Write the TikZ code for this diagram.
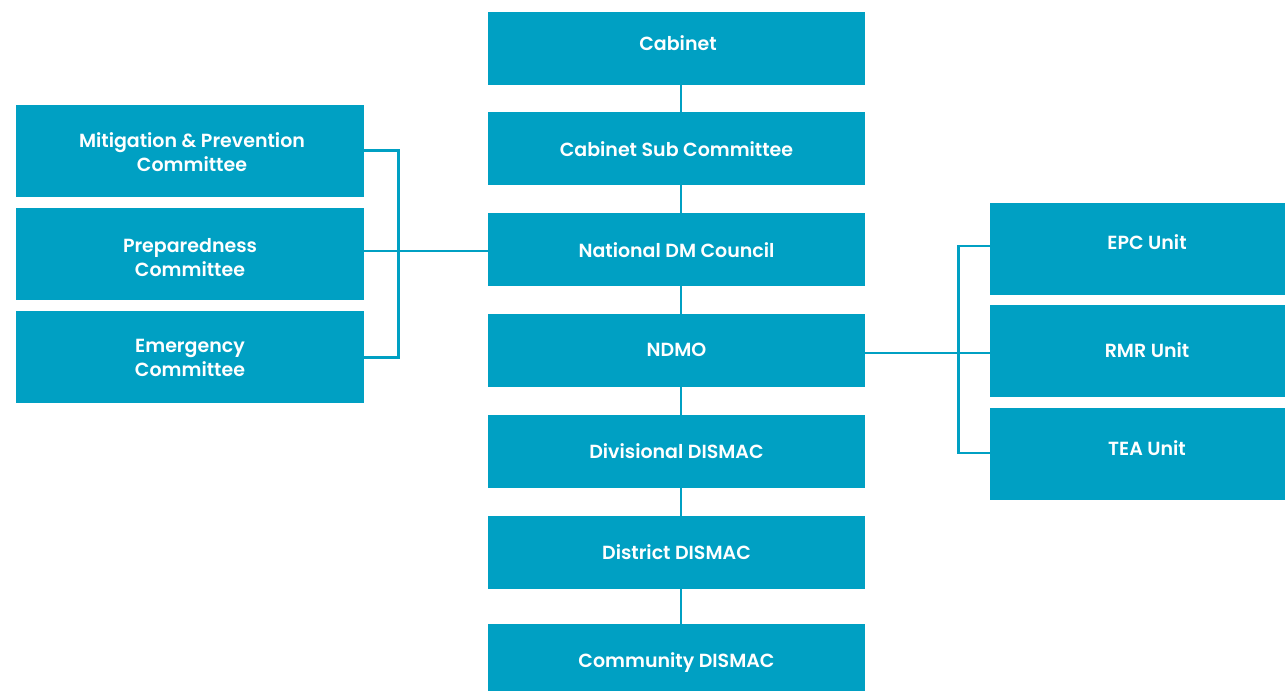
\documentclass[tikz,border=0pt]{standalone}
\usepackage{fontspec}
\IfFontExistsTF{Poppins SemiBold}{\newfontfamily\boxfont{Poppins SemiBold}}{\newfontfamily\boxfont{Poppins}[UprightFont=*-Bold]}
\definecolor{teal}{RGB}{0,160,195}
\begin{document}
\begin{tikzpicture}[x=1pt,y=-1pt,
  box/.style={fill=teal,draw=none,inner sep=0pt,outer sep=0pt},
  cbox/.style={box,minimum width=377pt,minimum height=72.7pt},
  lbox/.style={box,minimum width=348pt,minimum height=92pt},
  rbox/.style={box,minimum width=295pt,minimum height=92pt},
  txt/.style={text=white,font=\boxfont\fontsize{19}{24}\selectfont,align=center,inner sep=0pt},
  link/.style={draw=teal,line width=2.4pt}]
\useasboundingbox (0,0) rectangle (1285,691);
% centre column
\node[cbox] (cab) at (676.5,48.3) {};
\node[cbox] (sub) at (676.5,148.3) {};
\node[cbox] (ndmc) at (676.5,249.3) {};
\node[cbox] (ndmo) at (676.5,350.3) {};
\node[cbox] (div) at (676.5,451.2) {};
\node[cbox] (dist) at (676.5,552.3) {};
\node[box,minimum width=377pt,minimum height=67pt] (comm) at (676.5,657.5) {};
\node[txt] (cabt) at (678,43) {Cabinet};
\node[txt] (subt) at (676.5,149) {Cabinet Sub Committee};
\node[txt] (ndmct) at (676.5,250) {National DM Council};
\node[txt] (ndmot) at (676.5,350) {NDMO};
\node[txt] (divt) at (676.5,451) {Divisional DISMAC};
\node[txt] (distt) at (676.5,552) {District DISMAC};
\node[txt] (commt) at (676.5,662.5) {Community DISMAC};
% left column
\node[lbox] (mit) at (190,150.8) {};
\node[lbox] (prep) at (190,254) {};
\node[lbox] (emer) at (190,356.8) {};
\node[txt] (mitt) at (192,152) {Mitigation \& Prevention\\Committee};
\node[txt] (prept) at (190,258) {Preparedness\\Committee};
\node[txt] (emert) at (190,358) {Emergency\\Committee};
% right column
\node[rbox] (epc) at (1137.5,248.7) {};
\node[rbox] (rmr) at (1137.5,351) {};
\node[rbox] (tea) at (1137.5,454) {};
\node[txt] (epct) at (1147,242) {EPC Unit};
\node[txt] (rmrt) at (1147,350) {RMR Unit};
\node[txt] (teat) at (1147,448) {TEA Unit};
% spine
\coordinate (spine) at (681,0);
\draw[link] (cab.south -| spine) -- (sub.north -| spine);
\draw[link] (sub.south -| spine) -- (ndmc.north -| spine);
\draw[link] (ndmc.south -| spine) -- (ndmo.north -| spine);
\draw[link] (ndmo.south -| spine) -- (div.north -| spine);
\draw[link] (div.south -| spine) -- (dist.north -| spine);
\draw[link] (dist.south -| spine) -- (comm.north -| spine);
% left bracket
\coordinate (ltop) at (398.3,150.3);
\coordinate (lmid) at (398.3,250.7);
\coordinate (lbot) at (398.3,357.3);
\draw[link] (mit.east |- ltop) -- (ltop) -- (lbot) -- (emer.east |- lbot);
\draw[link] (prep.east |- lmid) -- (ndmc.west |- lmid);
% right bracket
\coordinate (rtop) at (958.3,245.7);
\coordinate (rmid) at (958.3,353);
\coordinate (rbot) at (958.3,453);
\draw[link] (epc.west |- rtop) -- (rtop) -- (rbot) -- (tea.west |- rbot);
\draw[link] (ndmo.east |- rmid) -- (rmr.west |- rmid);
\end{tikzpicture}
\end{document}
